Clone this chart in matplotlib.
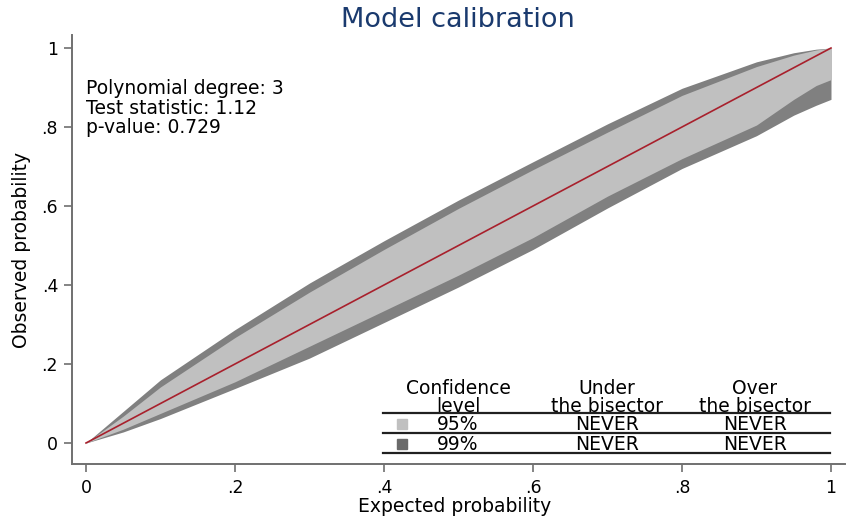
import matplotlib
matplotlib.use("Agg")
import matplotlib.pyplot as plt
from matplotlib.lines import Line2D

# ---- data ----
expected = [0.0, 0.05, 0.1, 0.2, 0.3, 0.4, 0.5, 0.6, 0.7, 0.8, 0.9, 0.95, 0.98, 1.0]
upper99 = [0.0, 0.08, 0.16, 0.287, 0.405, 0.512, 0.615, 0.712, 0.808, 0.898, 0.965, 0.988, 0.997, 1.0]
upper95 = [0.0, 0.068, 0.142, 0.267, 0.382, 0.49, 0.594, 0.692, 0.787, 0.88, 0.953, 0.982, 0.995, 1.0]
lower95 = [0.0, 0.035, 0.075, 0.155, 0.245, 0.335, 0.425, 0.52, 0.625, 0.72, 0.805, 0.87, 0.905, 0.92]
lower99 = [0.0, 0.028, 0.062, 0.138, 0.215, 0.305, 0.395, 0.49, 0.595, 0.695, 0.778, 0.83, 0.855, 0.87]
bisector_x = [0.0, 1.0]
bisector_y = [0.0, 1.0]

tick_vals = [0, 0.2, 0.4, 0.6, 0.8, 1.0]
tick_labels = ["0", ".2", ".4", ".6", ".8", "1"]

info_lines = ["Polynomial degree: 3", "Test statistic: 1.12", "p-value: 0.729"]
table_headers = ["Confidence\nlevel", "Under\nthe bisector", "Over\nthe bisector"]
table_levels = ["95%", "99%"]
table_under = ["NEVER", "NEVER"]
table_over = ["NEVER", "NEVER"]

LIGHT = "#c0c0c0"
DARK = "#808080"
RED = "#a8202c"
TITLE_C = "#1a3a6e"

W, H = 851, 524
plt.rcParams["font.family"] = ["DejaVu Sans"]
fig = plt.figure(figsize=(W / 100, H / 100), dpi=100)

def fx(px):
    return px / W

def fy(py):
    return 1 - py / H

ax_l, ax_r, ax_t, ax_b = 72, 845, 35, 464
ax = fig.add_axes([fx(ax_l), fy(ax_b), fx(ax_r) - fx(ax_l), fy(ax_t) - fy(ax_b)])

ax.fill_between(expected, lower99, upper99, color=DARK, linewidth=0)
ax.fill_between(expected, lower95, upper95, color=LIGHT, linewidth=0)
ax.plot(bisector_x, bisector_y, color=RED, linewidth=1.2)

# x: 0 at px 86, 1 at px 831 ; y: 0 at py 443, 1 at py 48
xs = 745.0
ys = 395.0
ax.set_xlim((ax_l - 86) / xs, (ax_r - 86) / xs)
ax.set_ylim((443 - ax_b) / ys, (443 - ax_t) / ys)

ax.set_xticks(tick_vals)
ax.set_xticklabels(tick_labels)
ax.set_yticks(tick_vals)
ax.set_yticklabels(tick_labels, rotation=0)
ax.tick_params(axis="both", direction="out", length=6, width=1.2, color="#707070",
               labelsize=12.5, labelcolor="black")
ax.tick_params(axis="x", pad=5)
ax.tick_params(axis="y", pad=4)
for s in ["top", "right"]:
    ax.spines[s].set_visible(False)
for s in ["left", "bottom"]:
    ax.spines[s].set_color("#707070")
    ax.spines[s].set_linewidth(1.4)

# titles and labels
fig.text(fx(458), fy(27), "Model calibration", ha="center", va="baseline",
         fontsize=19.5, color=TITLE_C)
fig.text(fx(455), fy(512), "Expected probability", ha="center", va="baseline",
         fontsize=13.5, color="black")
fig.text(fx(22), fy(250), "Observed probability", ha="center", va="center",
         rotation=90, fontsize=13.5, color="black")

# info text block
for i, line in enumerate(info_lines):
    fig.text(fx(86), fy(94 + 19.7 * i), line, ha="left", va="baseline",
             fontsize=13.5, color="black")

# legend table
col_x = [458, 607, 755]
for cx, hdr in zip(col_x, table_headers):
    fig.text(fx(cx), fy(412), hdr, ha="center", va="baseline", fontsize=13.5,
             multialignment="center", linespacing=0.92)

for ly in [413, 433, 453]:
    fig.add_artist(Line2D([fx(383), fx(830)], [fy(ly), fy(ly)], color="#202020",
                          linewidth=1.6, transform=fig.transFigure))

row_base = [430, 450]
row_colors = [LIGHT, "#6a6a6a"]
for i in range(2):
    fig.text(fx(col_x[0]), fy(row_base[i]), table_levels[i], ha="center", va="baseline", fontsize=13.5)
    fig.text(fx(col_x[1]), fy(row_base[i]), table_under[i], ha="center", va="baseline", fontsize=13.5)
    fig.text(fx(col_x[2]), fy(row_base[i]), table_over[i], ha="center", va="baseline", fontsize=13.5)
    fig.add_artist(Line2D([fx(402)], [fy(row_base[i] - 6)], marker="s", markersize=6.5,
                          color=row_colors[i], linestyle="none", transform=fig.transFigure))

fig.savefig("out.png", dpi=100)
